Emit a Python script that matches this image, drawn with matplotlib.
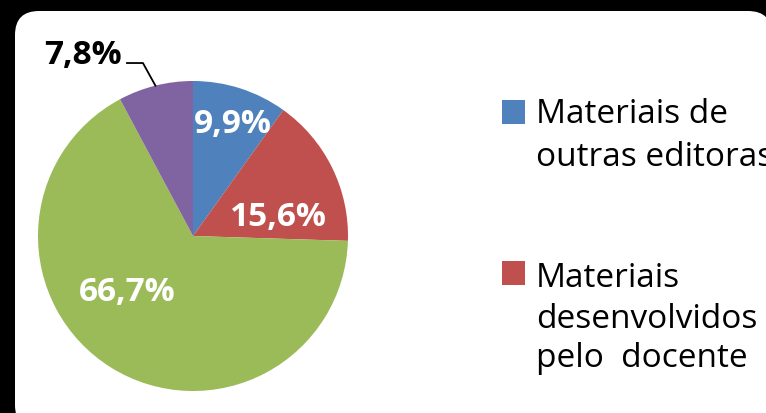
import matplotlib.pyplot as plt
from matplotlib.patches import FancyBboxPatch, Rectangle
import numpy as np

# slice values in percent, clockwise from 12 o'clock
values = [9.9, 15.6, 66.7, 7.8]
colors = ['#4F81BD', '#C0504D', '#9BBB59', '#8064A2']
# only the first two legend entries are visible in the picture
legend_labels = ["Materiais de\noutras editoras", "Materiais\ndesenvolvidos\npelo  docente"]

W, H = 766, 414
FONT = 'Open Sans'

fig = plt.figure(figsize=(W / 100, H / 100), dpi=100, facecolor='black')

# background axes in pixel units (y down)
bg = fig.add_axes([0, 0, 1, 1])
bg.set_xlim(0, W)
bg.set_ylim(H, 0)
bg.axis('off')
bg.add_patch(FancyBboxPatch((15, 12), 772 - 15, 430 - 12,
                            boxstyle="round,pad=0,rounding_size=24",
                            fc='white', ec='none'))

# pie axes: centre and radius in pixels
cx, cy, r = 193, 237, 155
ax = fig.add_axes([(cx - r) / W, (H - cy - r) / H, 2 * r / W, 2 * r / H])
wedges, _, autotexts = ax.pie(values, colors=colors, startangle=90, counterclock=False,
                              radius=1, wedgeprops=dict(linewidth=0),
                              autopct=lambda p: f"{p:.1f}%".replace('.', ','))
ax.set_xlim(-1, 1)
ax.set_ylim(-1, 1)
ax.axis('off')

# label placement (Excel style, not at slice middle)
label_pos = [(0.258, 0.723), (0.548, 0.123), (-0.426, -0.355), (-0.71, 1.174)]
label_col = ['white', 'white', 'white', 'black']
for t, pos, c in zip(autotexts, label_pos, label_col):
    t.set_position(pos)
    t.set_color(c)
    t.set_fontsize(24)
    t.set_fontweight('bold')
    t.set_family(FONT)
    t.set_ha('center')
    t.set_va('center')

# leader line for the small purple slice
w = wedges[3]
mid = np.deg2rad((w.theta1 + w.theta2) / 2)
ex, ey = np.cos(mid), np.sin(mid)
ax.plot([-0.426, -0.323, ex], [1.116, 1.116, ey], color='black', lw=1.3, clip_on=False)

# legend drawn by hand
sq_x, sq_w, sq_h = 502, 23, 24
sq_tops = [101, 262]
text_x = 536
baselines = [[123, 166], [287, 328, 367]]
for i, lab in enumerate(legend_labels):
    bg.add_patch(Rectangle((sq_x, sq_tops[i]), sq_w, sq_h, fc=colors[i], ec='none'))
    for line, yb in zip(lab.split('\n'), baselines[i]):
        bg.text(text_x, yb, line, fontsize=24, family=FONT, color='black',
                ha='left', va='baseline')

fig.savefig('out.png', dpi=100, facecolor='black')
